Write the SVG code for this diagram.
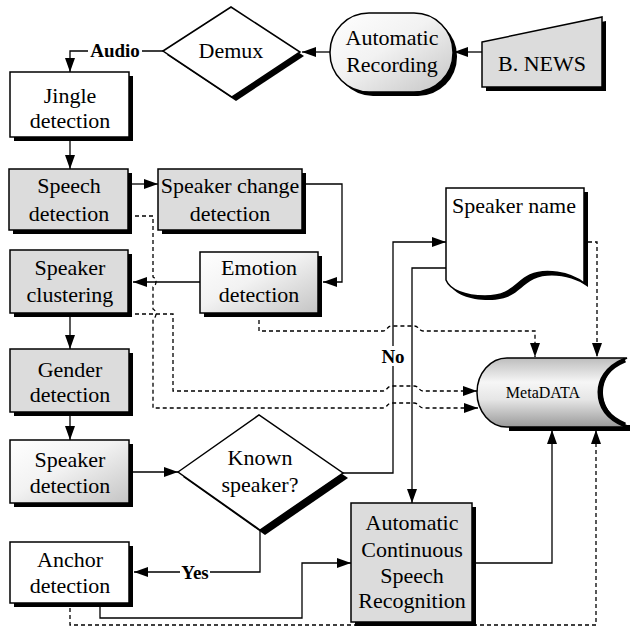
<svg xmlns="http://www.w3.org/2000/svg" width="630" height="636" viewBox="0 0 630 636">
  <defs>
    <style>
      .box { stroke: #000; stroke-width: 1.5; }
      .gray { fill: #dcdcdc; }
      .white { fill: #fff; }
      .grad { fill: url(#softFill); }
      .shadow { fill: #000; stroke: none; }
      .lbl { font-family: "Liberation Serif", "Times New Roman", serif; font-size: 22px; text-anchor: middle; fill: #000; }
      .bold { font-weight: bold; font-size: 19px; }
      .meta { font-size: 16px; }
      .conn { fill: none; stroke: #000; stroke-width: 1.3; }
      .dash { stroke-dasharray: 4 3; }
    </style>
    <linearGradient id="softFill" x1="0" y1="0" x2="1" y2="1">
      <stop offset="0" stop-color="#ffffff"/>
      <stop offset="0.45" stop-color="#f2f2f2"/>
      <stop offset="1" stop-color="#c4c4c4"/>
    </linearGradient>
    <linearGradient id="drumFill" x1="0" y1="0" x2="0" y2="1">
      <stop offset="0" stop-color="#bdbdbd"/>
      <stop offset="0.35" stop-color="#f6f6f6"/>
      <stop offset="0.6" stop-color="#e6e6e6"/>
      <stop offset="1" stop-color="#9a9a9a"/>
    </linearGradient>
    <marker id="arrow" markerWidth="14" markerHeight="10" refX="14" refY="5" orient="auto" markerUnits="userSpaceOnUse">
      <path d="M0,0 L14,5 L0,10 Z" fill="#000"/>
    </marker>
  </defs>

  <rect width="630" height="636" fill="#fff"/>

  <!-- connectors -->
  <g id="connectors">
    <!-- solid flow -->
    <path class="conn" d="M482,52 H454" marker-end="url(#arrow)"/>
    <path class="conn" d="M330,52 H302" marker-end="url(#arrow)"/>
    <path class="conn" d="M163,51 H70 V72" marker-end="url(#arrow)"/>
    <path class="conn" d="M70,141 V169" marker-end="url(#arrow)"/>
    <path class="conn" d="M128,184 H158" marker-end="url(#arrow)"/>
    <path class="conn" d="M302,184 H342 V282 H323" marker-end="url(#arrow)"/>
    <path class="conn" d="M200,282 H133" marker-end="url(#arrow)"/>
    <path class="conn" d="M70,317 V349" marker-end="url(#arrow)"/>
    <path class="conn" d="M70,416 V440" marker-end="url(#arrow)"/>
    <path class="conn" d="M130,472 H178" marker-end="url(#arrow)"/>
    <path class="conn" d="M343,473 H393 V242 H446" marker-end="url(#arrow)"/>
    <path class="conn" d="M446,268 H412 V503" marker-end="url(#arrow)"/>
    <path class="conn" d="M260,530 V572 H134" marker-end="url(#arrow)"/>
    <path class="conn" d="M100,607 V618 H302 V563 H351" marker-end="url(#arrow)"/>
    <path class="conn" d="M472,563 H552 V430" marker-end="url(#arrow)"/>

    <!-- dashed data links to the store -->
    <path class="conn dash" d="M128,216 H153 V277 C157,279 157,285 153,287 V309 C157,311 157,317 153,319 V408 H383 C387,408 387,403 392,403 H414 C419,403 419,408 423,408 H478" marker-end="url(#arrow)"/>
    <path class="conn dash" d="M128,314 H173 V391 H383 C387,391 387,386 392,386 H414 C419,386 419,391 423,391 H477" marker-end="url(#arrow)"/>
    <path class="conn dash" d="M259,313 V331 H383 C387,331 387,326 392,326 H414 C419,326 419,331 423,331 H535 V357" marker-end="url(#arrow)"/>
    <path class="conn dash" d="M588,242 H597 V357" marker-end="url(#arrow)"/>
    <path class="conn dash" d="M70,608 V625 H596 V430" marker-end="url(#arrow)"/>

    <!-- connector labels -->
    <rect x="88" y="42" width="54" height="18" fill="#fff"/>
    <text class="lbl bold" x="115" y="57">Audio</text>
    <rect x="381" y="346" width="24" height="20" fill="#fff"/>
    <text class="lbl bold" x="393" y="363">No</text>
    <rect x="180" y="563" width="30" height="18" fill="#fff"/>
    <text class="lbl bold" x="195" y="579">Yes</text>
  </g>

  <!-- source -->
  <g id="bnews">
    <polygon class="shadow" points="486,46 606,21 606,91 486,91"/>
    <polygon class="box gray" points="482,42 602,17 602,87 482,87"/>
    <text class="lbl" x="542" y="71">B. NEWS</text>
  </g>

  <g id="recording">
    <rect class="shadow" x="334" y="17" width="123" height="79" rx="39" ry="39"/>
    <rect class="box grad" x="330" y="13" width="123" height="79" rx="39" ry="39"/>
    <text class="lbl" x="392" y="45">Automatic</text>
    <text class="lbl" x="392" y="72">Recording</text>
  </g>

  <g id="demux">
    <polygon class="shadow" points="167,55 235,11 304,56 236,101"/>
    <polygon class="box white" points="163,51 231,7 300,52 232,97"/>
    <text class="lbl" x="231" y="58">Demux</text>
  </g>

  <g id="jingle">
    <rect class="shadow" x="14" y="76" width="119" height="65"/>
    <rect class="box white" x="10" y="72" width="119" height="65"/>
    <text class="lbl" x="70" y="103">Jingle</text>
    <text class="lbl" x="70" y="128">detection</text>
  </g>

  <g id="speech">
    <rect class="shadow" x="13" y="173" width="119" height="61"/>
    <rect class="box gray" x="9" y="169" width="119" height="61"/>
    <text class="lbl" x="69" y="193">Speech</text>
    <text class="lbl" x="69" y="221">detection</text>
  </g>

  <g id="change">
    <rect class="shadow" x="162" y="173" width="144" height="61"/>
    <rect class="box gray" x="158" y="169" width="144" height="61"/>
    <text class="lbl" x="230" y="193">Speaker change</text>
    <text class="lbl" x="230" y="221">detection</text>
  </g>

  <g id="clustering">
    <rect class="shadow" x="14" y="254" width="118" height="63"/>
    <rect class="box gray" x="10" y="250" width="118" height="63"/>
    <text class="lbl" x="70" y="275">Speaker</text>
    <text class="lbl" x="70" y="302">clustering</text>
  </g>

  <g id="emotion">
    <rect class="shadow" x="204" y="256" width="118" height="61"/>
    <rect class="box grad" x="200" y="252" width="118" height="61"/>
    <text class="lbl" x="259" y="275">Emotion</text>
    <text class="lbl" x="259" y="302">detection</text>
  </g>

  <g id="gender">
    <rect class="shadow" x="14" y="353" width="119" height="63"/>
    <rect class="box gray" x="10" y="349" width="119" height="63"/>
    <text class="lbl" x="70" y="377">Gender</text>
    <text class="lbl" x="70" y="402">detection</text>
  </g>

  <g id="speakerdet">
    <rect class="shadow" x="14" y="444" width="119" height="63"/>
    <rect class="box grad" x="10" y="440" width="119" height="63"/>
    <text class="lbl" x="70" y="467">Speaker</text>
    <text class="lbl" x="70" y="493">detection</text>
  </g>

  <g id="known">
    <polygon class="shadow" points="183,477 264,420 348,478 265,535"/>
    <polygon class="box white" points="178,472 259,415 343,473 260,530"/>
    <text class="lbl" x="260" y="465">Known</text>
    <text class="lbl" x="260" y="492">speaker?</text>
  </g>

  <g id="anchor">
    <rect class="shadow" x="14" y="546" width="119" height="61"/>
    <rect class="box white" x="10" y="542" width="119" height="61"/>
    <text class="lbl" x="70" y="567">Anchor</text>
    <text class="lbl" x="70" y="593">detection</text>
  </g>

  <g id="speakername">
    <path class="shadow" d="M450,192 H588 V287 C574,276 549,272 534,279 C519,286 516,300 489,300 C469,300 454,294 450,284 Z"/>
    <path class="box white" d="M446,188 H584 V283 C570,272 545,268 530,275 C515,282 512,296 485,296 C465,296 450,290 446,280 Z"/>
    <text class="lbl" x="514" y="213">Speaker name</text>
  </g>

  <g id="asr">
    <rect class="shadow" x="355" y="507" width="121" height="119"/>
    <rect class="box gray" x="351" y="503" width="121" height="119"/>
    <text class="lbl" x="412" y="530">Automatic</text>
    <text class="lbl" x="412" y="557">Continuous</text>
    <text class="lbl" x="412" y="583">Speech</text>
    <text class="lbl" x="412" y="608">Recognition</text>
  </g>

  <g id="metadata">
    <path class="shadow" d="M509,361 H630 V431 H509 Z"/>
    <path class="box" fill="url(#drumFill)" d="M507,358 H627 C608,366 601,380 601,392 C601,405 608,419 627,427 H507 A30,34.5 0 0 1 507,358 Z"/>
    <path fill="#fff" stroke="none" d="M627,360 C609,368 603,381 603,392 C603,404 609,417 627,425 H630 V360 Z"/>
    <path fill="none" stroke="#000" stroke-width="5" d="M625,360 C606,368 600,381 600,392 C600,404 606,417 625,425"/>
    <text class="lbl meta" x="543" y="398">MetaDATA</text>
  </g>
</svg>
